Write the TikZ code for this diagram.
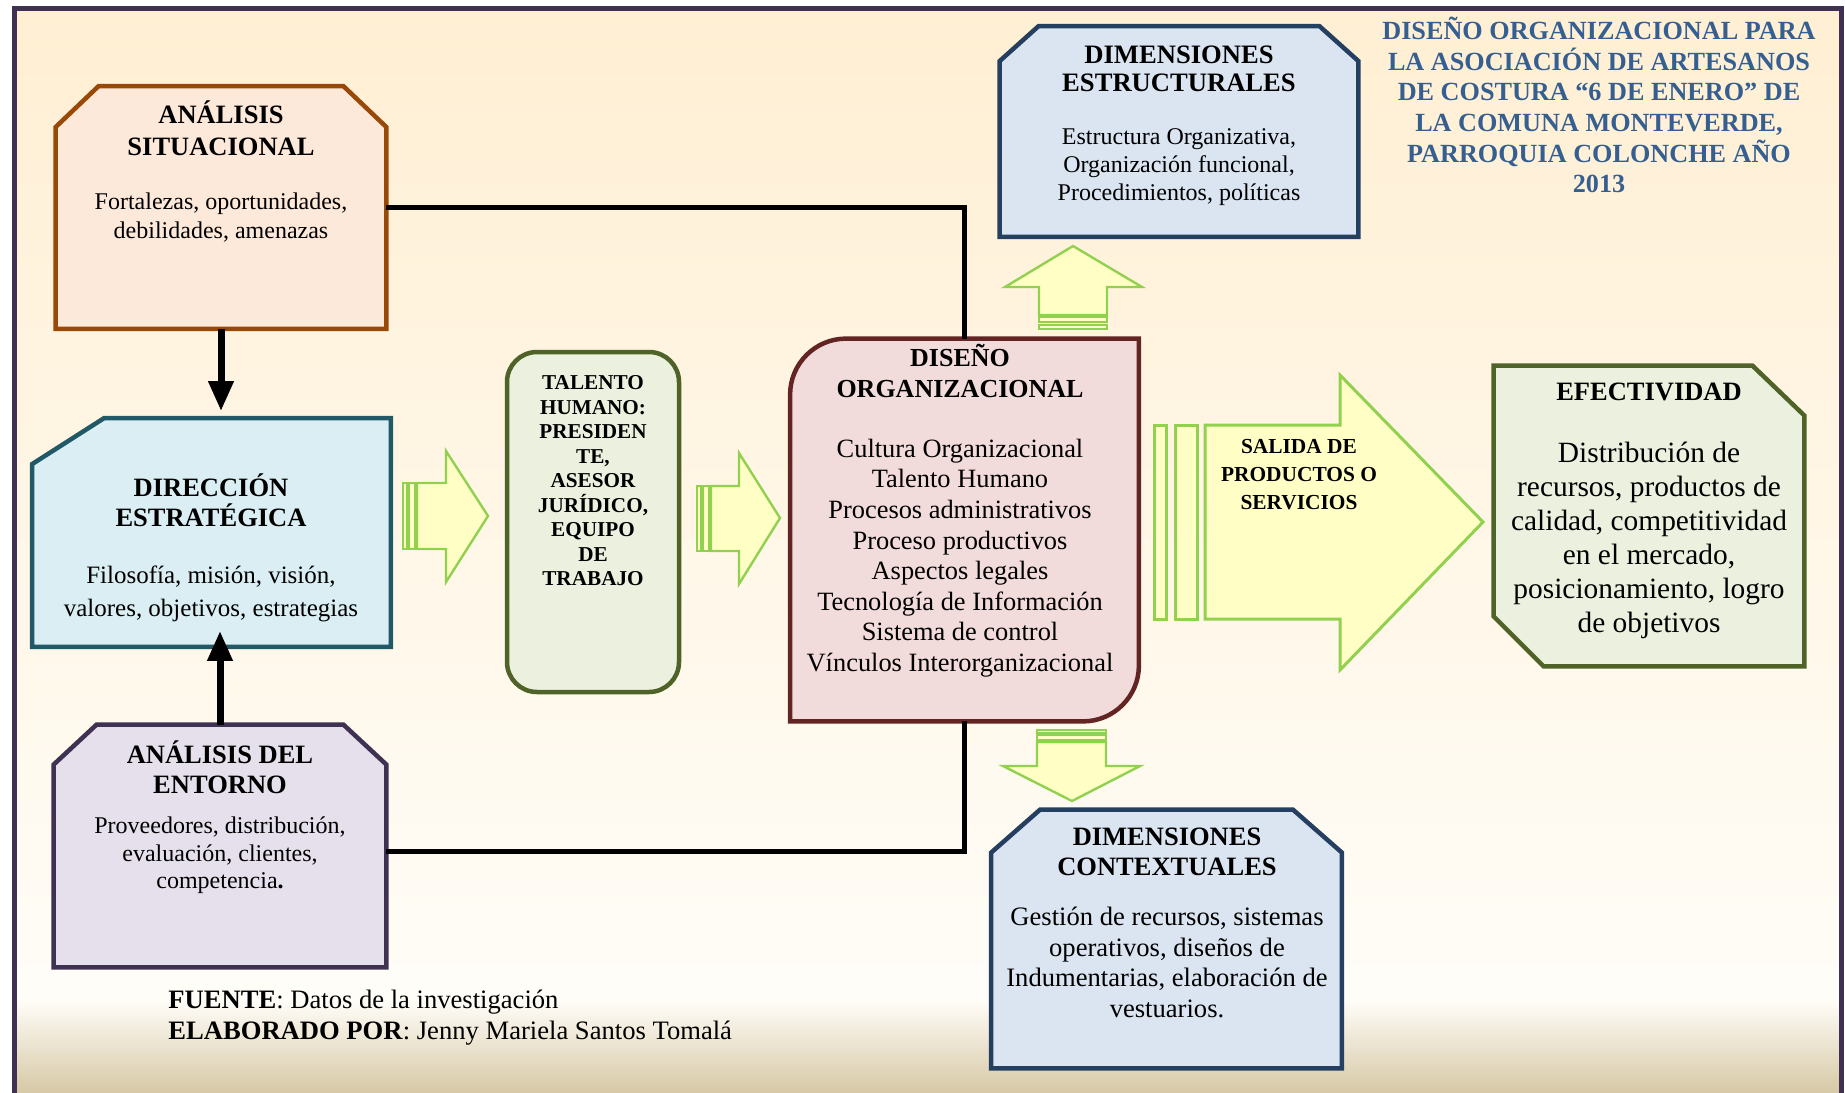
\documentclass[tikz,border=0pt]{standalone}
\usepackage{fontspec}
\setmainfont{Liberation Serif}
\usetikzlibrary{arrows.meta, positioning}

\definecolor{asline}{HTML}{984807}
\definecolor{asfill}{HTML}{FDE9D9}
\definecolor{deline}{HTML}{215968}
\definecolor{defill}{HTML}{DAEEF3}
\definecolor{aeline}{HTML}{3F3151}
\definecolor{aefill}{HTML}{E5E0EC}
\definecolor{thline}{HTML}{4F6228}
\definecolor{thfill}{HTML}{EBF1DE}
\definecolor{doline}{HTML}{632523}
\definecolor{dofill}{HTML}{F2DCDB}
\definecolor{dimline}{HTML}{243F60}
\definecolor{dimfill}{HTML}{DBE5F1}
\definecolor{agreen}{HTML}{92D050}
\definecolor{ayellow}{HTML}{FFFFC5}
\definecolor{titleblue}{HTML}{365F91}
\definecolor{bgtop}{HTML}{FFEFD3}
\definecolor{bgmid}{HTML}{FFFDF8}
\definecolor{bgbot}{HTML}{D7C9A7}

\begin{document}
\begin{tikzpicture}[x=0.5pt, y=-0.5pt,
  frame/.style = {rectangle, inner sep=0pt},
  box/.style = {draw, line width=2.25pt},
  ttl/.style = {font=\bfseries\fontsize{13.25}{15}\selectfont, align=center, inner sep=0pt},
  txt/.style = {font=\fontsize{12}{14.5}\selectfont, align=center, inner sep=0pt},
  conn/.style = {line width=2.5pt},
  tip/.style = {line width=3.5pt, -{Triangle[width=12pt, length=15pt]}},
  blk/.style = {draw=agreen, fill=ayellow, line width=1.2pt}]
\useasboundingbox (0,0) rectangle (1845,1092);
\fill[top color=bgtop, bottom color=bgmid] (14,8) rectangle (1841,1000);
\fill[top color=bgmid, bottom color=bgbot] (14,1000) rectangle (1841,1092);
\draw[aeline, line width=2.5pt] (14,1100) -- (14,8) -- (1841,8) -- (1841,1100);

\node[frame, minimum width=165pt, minimum height=121pt] (as) at (221,207.5) {};
\draw[box, draw=asline, fill=asfill] ([xshift=21.5pt]as.north west) -- ([xshift=-21.5pt]as.north east) -- ([yshift=-20.5pt]as.north east) -- (as.south east) -- (as.south west) -- ([yshift=-20.5pt]as.north west) -- cycle;
\node[frame, minimum width=179pt, minimum height=114pt] (de) at (211.5,532.5) {};
\draw[box, draw=deline, fill=defill] ([xshift=36pt]de.north west) -- (de.north east) -- (de.south east) -- (de.south west) -- ([yshift=-23pt]de.north west) -- cycle;
\node[frame, minimum width=166pt, minimum height=121pt] (ae) at (220,846) {};
\draw[box, draw=aeline, fill=aefill] ([xshift=21.5pt]ae.north west) -- ([xshift=-21.5pt]ae.north east) -- ([yshift=-20pt]ae.north east) -- (ae.south east) -- (ae.south west) -- ([yshift=-20pt]ae.north west) -- cycle;
\node[frame, box, rounded corners=15pt, draw=thline, fill=thfill, minimum width=86pt, minimum height=170pt] (th) at (593,522) {};
\node[frame, minimum width=174pt, minimum height=191pt] (do) at (964.5,530) {};
\draw[box, draw=doline, fill=dofill] (do.north east) -- ([yshift=28pt]do.south east) arc[start angle=0, end angle=-90, radius=28pt] -- (do.south west) -- ([yshift=-28pt]do.north west) arc[start angle=180, end angle=90, radius=28pt] -- cycle;
\node[frame, minimum width=179pt, minimum height=105pt] (des) at (1179,131.5) {};
\draw[box, draw=dimline, fill=dimfill] ([xshift=19.5pt]des.north west) -- ([xshift=-19.5pt]des.north east) -- ([yshift=-17.5pt]des.north east) -- (des.south east) -- (des.south west) -- ([yshift=-17.5pt]des.north west) -- cycle;
\node[frame, minimum width=175pt, minimum height=129pt] (dc) at (1166.5,939) {};
\draw[box, draw=dimline, fill=dimfill] ([xshift=24.5pt]dc.north west) -- ([xshift=-24.5pt]dc.north east) -- ([yshift=-21.5pt]dc.north east) -- (dc.south east) -- (dc.south west) -- ([yshift=-21.5pt]dc.north west) -- cycle;
\node[frame, minimum width=155pt, minimum height=150pt] (ef) at (1649,516) {};
\draw[box, draw=thline, fill=thfill] (ef.north west) -- ([xshift=-26pt]ef.north east) -- ([yshift=-25pt]ef.north east) -- (ef.south east) -- ([xshift=25pt]ef.south west) -- ([yshift=25pt]ef.south west) -- cycle;

\draw[tip, shorten >=3.5pt] (as.south) -- (as.south |- de.north);
\draw[tip, shorten >=-8pt] (ae.north) -- (ae.north |- de.south);
\draw[conn] (as.east) -| (do.north);
\draw[conn] ([yshift=-2.5pt]ae.east) -| (do.south);

\draw[blk, line width=1pt] (403,483) rectangle (407,549);
\draw[blk, line width=1pt] (409,483) rectangle (415,549);
\draw[blk] (417,483) -- (446,483) -- (446,451) -- (488,516) -- (446,582) -- (446,549) -- (417,549) -- cycle;
\draw[blk, line width=1pt] (697,486) rectangle (701,551);
\draw[blk, line width=1pt] (703,486) rectangle (709,551);
\draw[blk] (711,486) -- (739,486) -- (739,453) -- (780,518) -- (739,584) -- (739,551) -- (711,551) -- cycle;
\draw[blk, line width=1pt] (1039,317) rectangle (1107,322);
\draw[blk, line width=1pt] (1039,325) rectangle (1107,329);
\draw[blk] (1039,315) -- (1039,287) -- (1005,287) -- (1073,246) -- (1142,287) -- (1107,287) -- (1107,315) -- cycle;
\draw[blk, line width=1pt] (1037,730) rectangle (1106,733);
\draw[blk, line width=1pt] (1037,735) rectangle (1106,740);
\draw[blk] (1037,742) -- (1037,766) -- (1003,766) -- (1072,801) -- (1140,766) -- (1106,766) -- (1106,742) -- cycle;
\draw[blk, line width=1.5pt] (1154,425) rectangle (1166,619);
\draw[blk, line width=1.5pt] (1175,425) rectangle (1197,619);
\draw[blk, line width=1.5pt] (1205,425) -- (1340,425) -- (1340,375) -- (1483,522) -- (1340,670) -- (1340,619) -- (1205,619) -- cycle;

\node[ttl, font=\bfseries\fontsize{13.25}{16}\selectfont] (ast) at (221,128) {ANÁLISIS\\SITUACIONAL};
\node[txt] (asb) at (221,217.5) {Fortalezas, oportunidades,\\debilidades, amenazas};
\node[ttl] (det) at (211,500) {DIRECCIÓN\\ESTRATÉGICA};
\node[txt, font=\fontsize{12.5}{16.5}\selectfont] (deb) at (211,593.5) {Filosofía, misión, visión,\\valores, objetivos, estrategias};
\node[ttl] (aet) at (220,767) {ANÁLISIS DEL\\ENTORNO};
\node[txt, font=\fontsize{12}{13.75}\selectfont] (aeb) at (220,855.5) {Proveedores, distribución,\\evaluación, clientes,\\competencia\textbf{.}};
\node[ttl, font=\bfseries\fontsize{10.6}{12.25}\selectfont] (tht) at (593,481) {TALENTO\\HUMANO:\\PRESIDEN\\TE,\\ASESOR\\JURÍDICO,\\EQUIPO\\DE\\TRABAJO};
\node[ttl, font=\bfseries\fontsize{13}{15.5}\selectfont] (dot) at (960,371) {DISEÑO\\ORGANIZACIONAL};
\node[txt, font=\fontsize{13.2}{15.3}\selectfont] (dob) at (960,558) {Cultura Organizacional\\Talento Humano\\Procesos administrativos\\Proceso productivos\\Aspectos legales\\Tecnología de Información\\Sistema de control\\Vínculos Interorganizacional};
\node[ttl, font=\bfseries\fontsize{13.3}{14}\selectfont] (dest) at (1179,69) {DIMENSIONES\\ESTRUCTURALES};
\node[txt, font=\fontsize{12}{14}\selectfont] (desb) at (1179,167) {Estructura Organizativa,\\Organización funcional,\\Procedimientos, políticas};
\node[ttl] (dct) at (1167,852) {DIMENSIONES\\CONTEXTUALES};
\node[txt, font=\fontsize{13.3}{15.2}\selectfont] (dcb) at (1167,962.5) {Gestión de recursos, sistemas\\operativos, diseños de\\Indumentarias, elaboración de\\vestuarios.};
\node[ttl] (eft) at (1649,392) {EFECTIVIDAD};
\node[txt, font=\fontsize{14.7}{17}\selectfont] (efb) at (1649,540) {Distribución de\\recursos, productos de\\calidad, competitividad\\en el mercado,\\posicionamiento, logro\\de objetivos};
\node[ttl, font=\bfseries\fontsize{10.7}{14}\selectfont] (sal) at (1299,475) {SALIDA DE\\PRODUCTOS O\\SERVICIOS};
\node[ttl, font=\bfseries\fontsize{13.1}{15.3}\selectfont, text=titleblue] (title) at (1599,105) {DISEÑO ORGANIZACIONAL PARA\\LA ASOCIACIÓN DE ARTESANOS\\DE COSTURA “6 DE ENERO” DE\\LA COMUNA MONTEVERDE,\\PARROQUIA COLONCHE AÑO\\2013};
\node[txt, align=left, anchor=west, font=\fontsize{13.3}{15.5}\selectfont] (src) at (168,1018) {\textbf{FUENTE}: Datos de la investigación\\\textbf{ELABORADO POR}: Jenny Mariela Santos Tomalá};
\end{tikzpicture}
\end{document}
